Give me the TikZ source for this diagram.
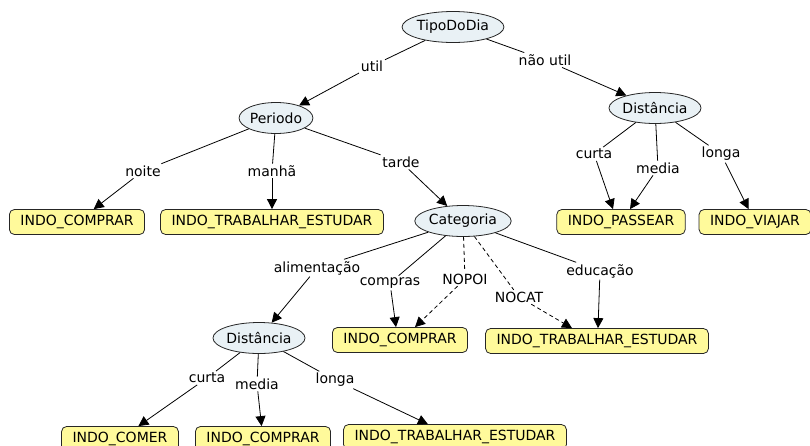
\documentclass[tikz,border=0pt]{standalone}
\usepackage{fontspec}
\setmainfont{DejaVu Sans}
\usetikzlibrary{arrows.meta,shapes.geometric}
\definecolor{cmapazul}{RGB}{233,241,245}
\definecolor{cmapamarelo}{RGB}{255,250,155}
\newcommand{\mklink}[4][]{\draw[#1] (#2) -- (#3); \draw[->,#1] (#3) -- (#4);}

\begin{document}
\begin{tikzpicture}[
    x=1pt,y=-1pt,
    font=\fontsize{14}{16}\selectfont,
    line width=0.8pt,
    >={Triangle[length=10pt,width=10pt]},
    conceito/.style={ellipse,draw=black!85,fill=cmapazul,inner sep=0pt,minimum height=31pt},
    folha/.style={rectangle,rounded corners=5pt,draw=black!85,fill=cmapamarelo,minimum height=25pt,inner xsep=11pt},
    frase/.style={inner sep=1.5pt},
    tracejado/.style={dash pattern=on 4pt off 3pt}
    ]
    \useasboundingbox (0,0) rectangle (810,445);
    % conceitos
    \node[conceito] (tipo) at (453,27) {TipoDoDia};
    \node[conceito] (periodo) at (276,118) {Periodo};
    \node[conceito] (distA) at (655,108) {Distância};
    \node[conceito] (cat) at (463,221) {Categoria};
    \node[conceito] (distB) at (259,338) {Distância};
    % folhas
    \node[folha] (comprarA) at (77,222) {INDO\_COMPRAR};
    \node[folha] (trabA) at (272,222) {INDO\_TRABALHAR\_ESTUDAR};
    \node[folha] (passear) at (621,222) {INDO\_PASSEAR};
    \node[folha] (viajar) at (755,222) {INDO\_VIAJAR};
    \node[folha] (comprarB) at (400,340) {INDO\_COMPRAR};
    \node[folha] (trabB) at (597,341) {INDO\_TRABALHAR\_ESTUDAR};
    \node[folha] (comer) at (120,439) {INDO\_COMER};
    \node[folha] (comprarC) at (263,439) {INDO\_COMPRAR};
    \node[folha] (trabC) at (455,437) {INDO\_TRABALHAR\_ESTUDAR};
    % frases de ligacao
    \node[frase] (util) at (372,66) {util};
    \node[frase] (naoutil) at (545,60) {não util};
    \node[frase] (noite) at (143,171) {noite};
    \node[frase] (manha) at (272,171) {manhã};
    \node[frase] (tarde) at (401,162) {tarde};
    \node[frase] (curtaA) at (594,154) {curta};
    \node[frase] (mediaA) at (658,168) {media};
    \node[frase] (longaA) at (721,154) {longa};
    \node[frase] (alim) at (317,268) {alimentação};
    \node[frase] (compras) at (390,283) {compras};
    \node[frase] (nopoi) at (465,279) {NOPOI};
    \node[frase] (nocat) at (519,297) {NOCAT};
    \node[frase] (educ) at (600,271) {educação};
    \node[frase] (curtaB) at (207,378) {curta};
    \node[frase] (mediaB) at (257,384) {media};
    \node[frase] (longaB) at (335,380) {longa};
    % ligacoes
    \mklink{tipo}{util}{periodo}
    \mklink{tipo}{naoutil}{distA}
    \mklink{periodo}{noite}{comprarA}
    \mklink{periodo}{manha}{trabA}
    \mklink{periodo}{tarde}{cat}
    \mklink{distA}{curtaA}{[xshift=-8pt]passear.north}
    \mklink{distA}{mediaA}{[xshift=9pt]passear.north}
    \mklink{distA}{longaA}{viajar}
    \mklink{cat}{alim}{distB}
    \mklink{cat}{compras}{[xshift=-4pt]comprarB.north}
    \mklink[tracejado]{cat}{nopoi}{[xshift=15pt]comprarB.north}
    \mklink[tracejado]{cat}{nocat}{[xshift=-25pt]trabB.north}
    \mklink{cat}{educ}{[xshift=1pt]trabB.north}
    \mklink{distB}{curtaB}{comer}
    \mklink{distB}{mediaB}{comprarC}
    \mklink{distB}{longaB}{trabC}
  \end{tikzpicture}
\end{document}
